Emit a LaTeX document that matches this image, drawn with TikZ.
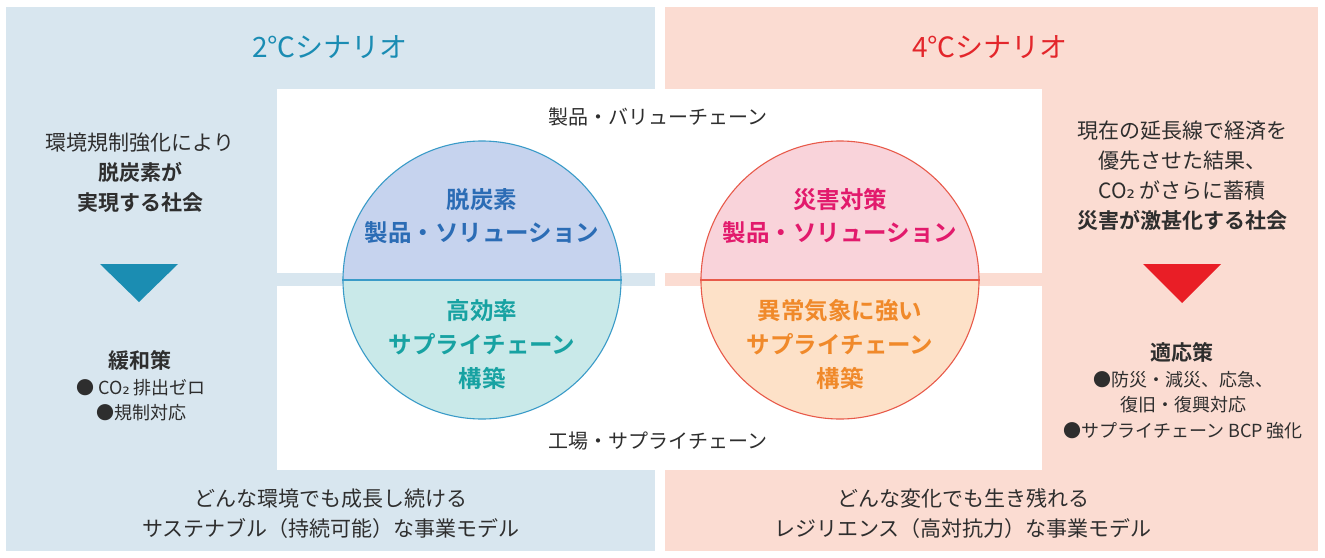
\documentclass[tikz,border=0pt]{standalone}
\usepackage{fontspec}
\setmainfont{Noto Sans CJK JP}[BoldFont={Noto Sans CJK JP Bold}]
\newfontfamily\subfont{DejaVu Sans}
\newcommand{\subtwo}{{\subfont ₂}}
\definecolor{panelL}{HTML}{D8E6EF}
\definecolor{panelR}{HTML}{FBDCD2}
\definecolor{titleL}{HTML}{1A8CB3}
\definecolor{titleR}{HTML}{E3262B}
\definecolor{lineL}{HTML}{3A9BC8}
\definecolor{fillLt}{HTML}{C6D3EE}
\definecolor{fillLb}{HTML}{C9E9E9}
\definecolor{textLt}{HTML}{2B6CB5}
\definecolor{textLb}{HTML}{17A2A2}
\definecolor{lineR}{HTML}{E85A4A}
\definecolor{fillRt}{HTML}{F9D3DA}
\definecolor{fillRb}{HTML}{FDE1C8}
\definecolor{textRt}{HTML}{E21A6C}
\definecolor{textRb}{HTML}{F0892A}
\definecolor{triL}{HTML}{1B8DB2}
\definecolor{triR}{HTML}{E91E26}
\definecolor{ink}{HTML}{2E2E2E}
\tikzset{
  body/.style={text=ink, align=center, inner sep=0pt, font=\fontsize{21}{30}\selectfont},
  small/.style={text=ink, align=center, inner sep=0pt, font=\fontsize{18}{25.5}\selectfont},
  title/.style={inner sep=0pt, font=\fontsize{28}{32}\selectfont},
  circtext/.style={inner sep=0pt, align=center, font=\bfseries\fontsize{23.5}{33}\selectfont},
  circlebox/.style={circle, minimum size=278pt, inner sep=0pt, line width=1.1pt},
}
\begin{document}
\begin{tikzpicture}[x=1pt,y=-1pt]
\useasboundingbox (0,0) rectangle (1325,557);
\fill[white] (0,0) rectangle (1325,557);
% panels
\fill[panelL] (6,7) rectangle (655,551);
\fill[panelR] (665,7) rectangle (1318,551);
% white areas
\fill[white] (277,89) rectangle (1042,273);
\fill[white] (277,286) rectangle (1042,470);
% titles
\node[title, text=titleL] (tL) at (330,47) {2℃シナリオ};
\node[title, text=titleR] (tR) at (990,47) {4℃シナリオ};
% left side texts
\node[body] (lsoc) at (140,173) {環境規制強化により\\\textbf{脱炭素が}\\\textbf{実現する社会}};
\fill[triL] (100,264) -- (178,264) -- (139,302) -- cycle;
\node[body, font=\bfseries\fontsize{21}{30}\selectfont] (lmit) at (140,360) {緩和策};
\node[small] (llist) at (141,400) {● CO\subtwo\ 排出ゼロ\\●規制対応};
% right side texts
\node[body] (rsoc) at (1182,176) {現在の延長線で経済を\\優先させた結果、\\CO\subtwo\ がさらに蓄積\\\textbf{災害が激甚化する社会}};
\fill[triR] (1143,264) -- (1221,264) -- (1182,303) -- cycle;
\node[body, font=\bfseries\fontsize{21}{30}\selectfont] (radp) at (1182,352) {適応策};
\node[small] (rlist) at (1183,405) {●防災・減災、応急、\\復旧・復興対応\\●サプライチェーン BCP 強化};
% middle labels
\node[body, font=\fontsize{20}{24}\selectfont] (vc) at (658,117) {製品・バリューチェーン};
\node[body, font=\fontsize{20}{24}\selectfont] (sc) at (658,441) {工場・サプライチェーン};
% left circle
\begin{scope}
\clip (482,280) circle[radius=139];
\fill[fillLt] (340,138) rectangle (625,280);
\fill[fillLb] (340,280) rectangle (625,422);
\end{scope}
\node[circlebox, draw=lineL] (cL) at (482,280) {};
\draw[lineL, line width=1.1pt] (cL.west) -- (cL.east);
\node[circtext, text=textLt] (cLt) at (482,216) {脱炭素\\製品・ソリューション};
\node[circtext, text=textLb, font=\bfseries\fontsize{23.5}{34}\selectfont] (cLb) at (482,345) {高効率\\サプライチェーン\\構築};
% right circle
\begin{scope}
\clip (840,280) circle[radius=139];
\fill[fillRt] (698,138) rectangle (983,280);
\fill[fillRb] (698,280) rectangle (983,422);
\end{scope}
\node[circlebox, draw=lineR] (cR) at (840,280) {};
\draw[lineR, line width=1.1pt] (cR.west) -- (cR.east);
\node[circtext, text=textRt] (cRt) at (840,216) {災害対策\\製品・ソリューション};
\node[circtext, text=textRb, font=\bfseries\fontsize{23.5}{34}\selectfont] (cRb) at (840,345) {異常気象に強い\\サプライチェーン\\構築};
% bottom texts
\node[body] (bL) at (331,514) {どんな環境でも成長し続ける\\サステナブル（持続可能）な事業モデル};
\node[body] (bR) at (963,514) {どんな変化でも生き残れる\\レジリエンス（高対抗力）な事業モデル};
\end{tikzpicture}
\end{document}
